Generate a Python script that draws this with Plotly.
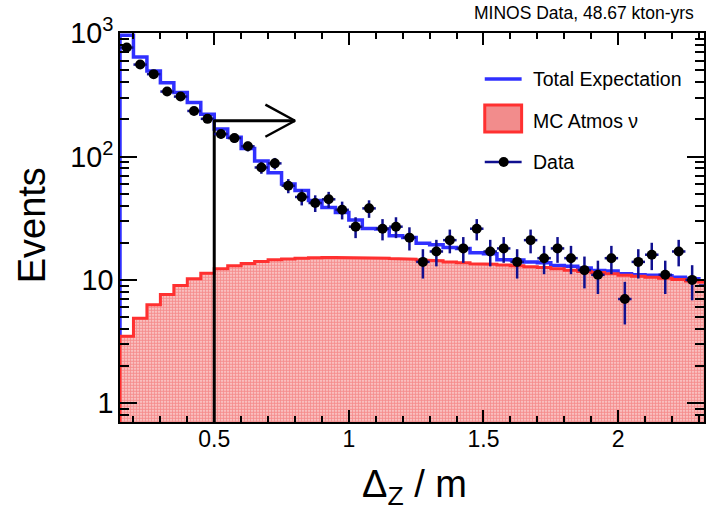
import numpy as np
import plotly.graph_objects as go

# Binning: 0.05 m bins from 0.15 m to 2.35 m
BIN_LO = 0.15
BIN_W = 0.05
N_BINS = 44
edges = BIN_LO + BIN_W * np.arange(N_BINS + 1)
centers = edges[:-1] + BIN_W / 2

# Total expectation (signal + atmospheric background)
total_expectation = [
    960, 641, 494, 397, 330, 274, 220, 167, 143, 116,
    92, 74, 60, 53, 44, 38.6, 35.2, 30.6, 26.1, 25.8,
    22.8, 22.1, 19.8, 19.3, 18.3, 18.0, 16.6, 16.3, 14.6, 14.5,
    14.0, 13.8, 13.1, 12.9, 12.5, 11.9, 11.8, 11.2, 11.0, 10.9,
    10.8, 10.5, 10.2, 9.8,
]

# Monte Carlo atmospheric neutrino prediction
mc_atmos = [
    3.5, 4.9, 6.3, 7.6, 9.0, 10.2, 11.3, 12.3, 13.0, 13.6,
    14.1, 14.6, 14.8, 15.0, 15.1, 15.2, 15.2, 15.2, 15.1, 15.0,
    14.9, 14.7, 14.5, 14.3, 14.0, 13.8, 13.5, 13.4, 13.2, 13.0,
    12.8, 12.6, 12.3, 12.0, 11.7, 11.5, 11.2, 10.9, 10.7, 10.5,
    10.3, 10.1, 9.8, 9.6,
]

# Observed events per bin
data_counts = [
    764, 556, 465, 336, 306, 234, 202, 152, 141, 121,
    81.5, 88, 58, 47, 42, 45, 37, 27, 38, 26,
    27, 22, 14, 17, 21, 18, 26, 17, 18, 14,
    21, 15, 18, 15, 12, 11, 15, 7, 14, 16,
    11, 17, 10, 9,
]

# Selection cut on Delta_Z and the arrow marking the accepted side
CUT_X = 0.5
ARROW_TIP_X = 0.8
ARROW_BACK_X = 0.69
ARROW_Y = 195
ARROW_HALF_DEC = 0.13  # half-height of the arrow head in decades

FLOOR = 0.3  # below the visible y-range, closes the filled histogram

X_RANGE = [0.15, 2.319]
Y_RANGE = [-0.1515, 3.001]

BLUE = "#3030ff"
RED = "#ff3030"
NAVY = "#101090"
FONT = "Liberation Sans, Arial, Helvetica, sans-serif"


def step_xy(vals):
    xs, ys = [], []
    for i, v in enumerate(vals):
        xs += [edges[i], edges[i + 1]]
        ys += [v, v]
    return xs, ys


fig = go.Figure()

# Total expectation as a step histogram
bx, by = step_xy(total_expectation)
fig.add_trace(go.Scatter(
    x=[edges[0]] + bx + [edges[-1]], y=[FLOOR] + by + [FLOOR],
    mode="lines", line=dict(color=BLUE, width=3.5),
    hoverinfo="skip", showlegend=False,
))

# MC atmospheric background, filled with a dotted red pattern
rx, ry = step_xy(mc_atmos)
fig.add_trace(go.Scatter(
    x=[edges[0]] + rx + [edges[-1], edges[0]],
    y=[FLOOR] + ry + [FLOOR, FLOOR],
    mode="lines", fill="toself",
    fillcolor="rgba(240,120,120,1)",
    fillpattern=dict(shape=".", fgcolor="#f03c3c", bgcolor="#fbe0e0",
                     size=3, solidity=0.7),
    line=dict(color=RED, width=3),
    hoverinfo="skip", showlegend=False,
))

# Cut line and arrow
fig.add_trace(go.Scatter(
    x=[CUT_X, CUT_X, ARROW_TIP_X], y=[FLOOR, ARROW_Y, ARROW_Y],
    mode="lines", line=dict(color="black", width=3),
    hoverinfo="skip", showlegend=False,
))
fig.add_trace(go.Scatter(
    x=[ARROW_BACK_X, ARROW_TIP_X, ARROW_BACK_X],
    y=[ARROW_Y * 10 ** ARROW_HALF_DEC, ARROW_Y, ARROW_Y / 10 ** ARROW_HALF_DEC],
    mode="lines", line=dict(color="black", width=2.5),
    hoverinfo="skip", showlegend=False,
))

# Data points with Poisson errors
fig.add_trace(go.Scatter(
    x=centers, y=data_counts, mode="markers",
    marker=dict(color="black", size=10, symbol="circle"),
    error_y=dict(type="data", array=np.sqrt(data_counts), color=NAVY,
                 thickness=2.5, width=0),
    error_x=dict(type="constant", value=BIN_W / 2, color=NAVY,
                 thickness=2.5, width=0),
    cliponaxis=False, hoverinfo="skip", showlegend=False,
))

# Plot-area geometry in pixels (for legend placement)
L, R, T, B = 120, 1, 33, 88
W, H = 707, 510
PW, PH = W - L - R, H - T - B


def px(x):
    return (x - L) / PW


def py(y):
    return (H - B - y) / PH


shapes = [
    dict(type="line", xref="paper", yref="paper",
         x0=px(486), x1=px(523), y0=py(79), y1=py(79),
         line=dict(color=BLUE, width=3.5)),
    dict(type="rect", xref="paper", yref="paper",
         x0=px(486), x1=px(523), y0=py(132), y1=py(105),
         fillcolor="rgba(242,140,140,1)", line=dict(color=RED, width=3)),
    dict(type="line", xref="paper", yref="paper",
         x0=px(486), x1=px(523), y0=py(162), y1=py(162),
         line=dict(color=NAVY, width=2.5)),
    dict(type="circle", xref="paper", yref="paper",
         x0=px(500), x1=px(510), y0=py(167), y1=py(157),
         fillcolor="black", line=dict(color="black", width=0)),
]

annotations = [
    dict(text="Total Expectation", x=px(532), y=py(79), xref="paper", yref="paper",
         xanchor="left", yanchor="middle", showarrow=False,
         font=dict(size=19.5, color="black", family=FONT)),
    dict(text="MC Atmos ν", x=px(532), y=py(121), xref="paper", yref="paper",
         xanchor="left", yanchor="middle", showarrow=False,
         font=dict(size=19.5, color="black", family=FONT)),
    dict(text="Data", x=px(532), y=py(162), xref="paper", yref="paper",
         xanchor="left", yanchor="middle", showarrow=False,
         font=dict(size=19.5, color="black", family=FONT)),
    dict(text="MINOS Data, 48.67 kton-yrs", x=px(698), y=py(13),
         xref="paper", yref="paper", xanchor="right", yanchor="middle",
         showarrow=False, font=dict(size=17.5, color="black", family=FONT)),
    dict(text="Events", x=px(32), y=py(225), xref="paper", yref="paper",
         xanchor="center", yanchor="middle", textangle=-90, showarrow=False,
         font=dict(size=38, color="black", family=FONT)),
    dict(text="Δ<sub>Z</sub> / m", x=px(416), y=py(487), xref="paper", yref="paper",
         xanchor="center", yanchor="middle", showarrow=False,
         font=dict(size=38, color="black", family=FONT)),
]

fig.update_layout(
    width=W, height=H,
    margin=dict(l=L, r=R, t=T, b=B, pad=0),
    paper_bgcolor="white", plot_bgcolor="white",
    font=dict(family=FONT, color="black"),
    shapes=shapes, annotations=annotations,
    showlegend=False,
)

fig.update_xaxes(
    range=X_RANGE, tick0=0, dtick=0.5,
    ticks="inside", ticklen=12, tickwidth=1.5, tickcolor="black",
    minor=dict(ticks="inside", ticklen=6, tickwidth=1.5, tickcolor="black",
               dtick=0.1, showgrid=False),
    showline=True, linecolor="black", linewidth=2, mirror="allticks",
    showgrid=False, zeroline=False,
    tickfont=dict(size=23, color="black", family=FONT),
    ticklabelstandoff=-5,
)

fig.update_yaxes(
    type="log", range=Y_RANGE, dtick=1, exponentformat="power",
    ticks="inside", ticklen=17, tickwidth=1.5, tickcolor="black",
    minor=dict(ticks="inside", ticklen=9, tickwidth=1.5, tickcolor="black",
               dtick="D1", showgrid=False),
    showline=True, linecolor="black", linewidth=2, mirror="allticks",
    showgrid=False, zeroline=False,
    tickfont=dict(size=23, color="black", family=FONT),
)

fig.write_html("out.html")
